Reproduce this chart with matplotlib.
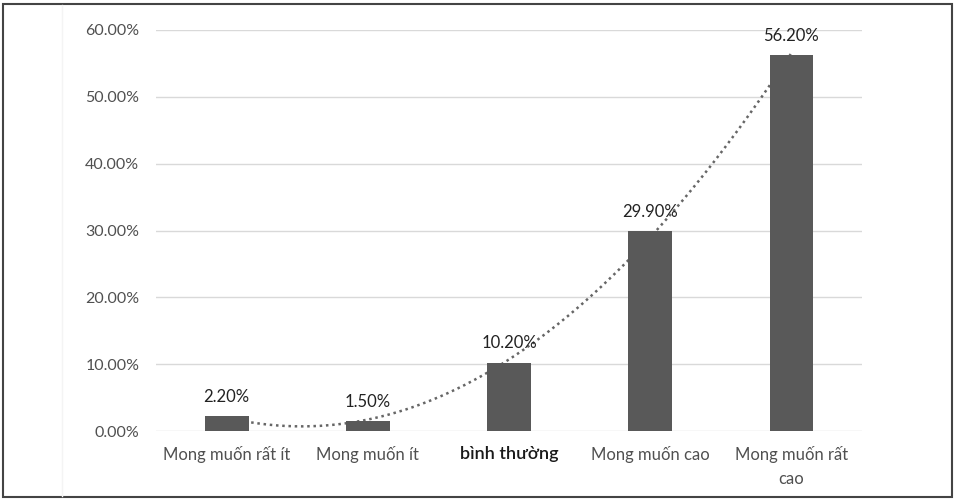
import matplotlib
matplotlib.use('Agg')
import matplotlib.pyplot as plt
from matplotlib.patches import Rectangle
import numpy as np

## Chart data ##
categories = ['Mong muốn rất ít', 'Mong muốn ít', 'bình thường', 'Mong muốn cao', 'Mong muốn rất\ncao']
values = [2.2, 1.5, 10.2, 29.9, 56.2]
y_ticks = [0, 10, 20, 30, 40, 50, 60]

bar_color = '#595959'
text_gray = '#505050'
plt.rcParams['font.family'] = ['Lato', 'DejaVu Sans']

fig = plt.figure(figsize=(9.59, 5.04), dpi=100)
ax = fig.add_axes([0.1627, 0.1448, 0.7362, 0.7957])

x = np.arange(1, len(values) + 1)
ax.bar(x, values, width=0.31, color=bar_color, zorder=3)

# polynomial (order 2) trendline like the Excel one
coef = np.polyfit(x, values, 2)
xs = np.linspace(1, len(values), 200)
ax.plot(xs, np.polyval(coef, xs), linestyle=(0, (1, 1.5)), color='#666666', linewidth=1.8, zorder=2)

# value labels above the bars
for xi, v in zip(x, values):
    ax.annotate(f'{v:.2f}%', (xi, v), xytext=(0, 14), textcoords='offset points',
                ha='center', va='center', fontsize=12, color='#222222', zorder=4)

ax.set_xlim(0.5, len(values) + 0.5)
ax.set_ylim(0, 60)
ax.set_yticks(y_ticks)
ax.set_yticklabels([f'{t:.2f}%' for t in y_ticks], fontsize=11.5, color=text_gray)
ax.set_xticks(x)
ax.set_xticklabels(categories, fontsize=12, color=text_gray, linespacing=1.6)
for lbl in ax.get_xticklabels():
    if lbl.get_text() == 'bình thường':
        lbl.set_color('#1a1a1a')
        lbl.set_fontsize(13)
        lbl.set_fontweight('semibold')
ax.tick_params(axis='both', length=0)
ax.tick_params(axis='x', pad=11)
ax.tick_params(axis='y', pad=12)
ax.grid(axis='y', color='#d9d9d9', linewidth=1, zorder=0)
for s in ax.spines.values():
    s.set_visible(False)

# outer chart frame
fig.patches.append(Rectangle((3 / 959, 1 - 497 / 504), 949 / 959, 493 / 504, transform=fig.transFigure,
                             fill=False, edgecolor='#444444', linewidth=1.5))
fig.lines.append(plt.Line2D([62 / 959, 62 / 959], [1 - 496 / 504, 1 - 5 / 504], transform=fig.transFigure,
                            color='#f4f4f4', linewidth=1))

fig.savefig('out.png', dpi=100)
